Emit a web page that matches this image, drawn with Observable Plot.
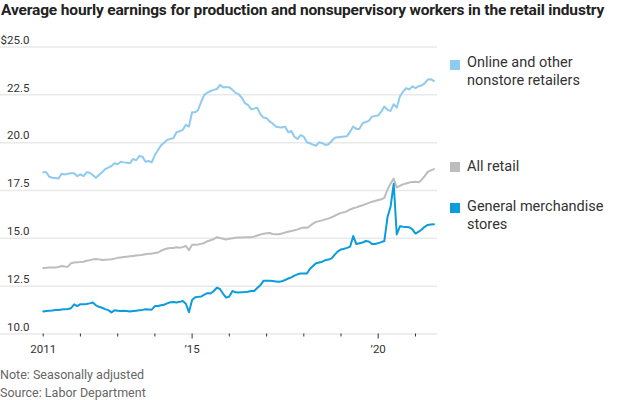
<!DOCTYPE html>
<html>
<head>
<meta charset="utf-8">
<script src="https://cdn.jsdelivr.net/npm/d3@7"></script>
<script src="https://cdn.jsdelivr.net/npm/@observablehq/plot@0.6"></script>
<style>
  body { margin: 0; background: #fff; font-family: Roboto, "Noto Sans", sans-serif; }
  #wrap { position: relative; width: 620px; height: 400px; overflow: hidden; }
  #title { position: absolute; left: 1px; top: 1px; font-weight: 700; font-size: 15.5px; color: #222; white-space: nowrap; letter-spacing: -0.15px; }
  #chart { position: absolute; left: 0; top: 25px; }
  .legtext { position: absolute; left: 467px; font-size: 14.5px; line-height: 18px; color: #333; }
  .sw { position: absolute; left: 450px; width: 10px; height: 10px; }
  .note { position: absolute; left: 0; font-size: 12.5px; color: #666; white-space: nowrap; }
</style>
</head>
<body>
<div id="wrap">
  <div id="title"></div>
  <div id="chart"></div>
  <div id="legend"></div>
  <div class="note" id="note1" style="top:367px"></div>
  <div class="note" id="note2" style="top:385px"></div>
</div>
<script>
// ---- data (monthly, starting January 2011) ----
const startYear = 2011, startMonth = 0;
const seriesNames = ["Online and other nonstore retailers", "All retail", "General merchandise stores"];
const legendLines = [["Online and other", "nonstore retailers"], ["All retail"], ["General merchandise", "stores"]];
const colors = ["#8fcaf0", "#bdbdbd", "#0a9cdc"];

const online = [
  18.45, 18.45, 18.22, 18.17, 18.15, 18.13, 18.38, 18.34, 18.37, 18.40, 18.40, 18.25,
  18.34, 18.25, 18.45, 18.43, 18.31, 18.17, 18.31, 18.45, 18.62, 18.70, 18.78, 18.92,
  18.87, 19.00, 18.97, 18.95, 18.92, 19.15, 19.08, 19.30, 19.27, 19.00, 19.04, 18.97,
  19.36, 19.62, 19.85, 20.00, 20.14, 20.20, 20.23, 20.54, 20.60, 20.67, 20.93, 20.84,
  21.59, 21.59, 21.71, 22.15, 22.50, 22.62, 22.70, 22.76, 22.80, 23.02, 22.90, 22.90,
  22.90, 22.76, 22.60, 22.54, 22.36, 22.07, 21.98, 21.75, 21.78, 21.83, 21.49, 21.31,
  21.28, 21.10, 21.00, 20.84, 20.80, 20.79, 20.84, 20.54, 20.61, 20.31, 20.19, 20.40,
  20.31, 20.02, 19.97, 19.90, 19.84, 20.02, 19.98, 19.88, 19.92, 20.09, 20.26, 20.28,
  20.30, 20.32, 20.34, 20.58, 20.84, 20.72, 20.72, 21.02, 21.08, 21.14, 21.36, 21.40,
  21.42, 21.63, 21.89, 21.71, 21.66, 22.01, 21.83, 22.41, 22.67, 22.85, 22.78, 22.94,
  22.85, 22.95, 22.99, 23.10, 23.30, 23.32, 23.22
];
const allRetail = [
  13.45, 13.46, 13.47, 13.47, 13.48, 13.50, 13.55, 13.53, 13.52, 13.70, 13.74, 13.75,
  13.76, 13.78, 13.83, 13.86, 13.90, 13.92, 13.90, 13.87, 13.88, 13.89, 13.91, 13.94,
  13.98, 14.00, 14.02, 14.04, 14.06, 14.08, 14.10, 14.11, 14.14, 14.17, 14.19, 14.20,
  14.23, 14.26, 14.35, 14.42, 14.47, 14.49, 14.50, 14.53, 14.51, 14.54, 14.60, 14.38,
  14.67, 14.67, 14.68, 14.71, 14.76, 14.85, 14.90, 14.96, 15.06, 15.02, 14.98, 14.94,
  14.98, 15.01, 15.03, 15.04, 15.05, 15.06, 15.06, 15.06, 15.09, 15.15, 15.20, 15.24,
  15.27, 15.28, 15.23, 15.21, 15.21, 15.25, 15.30, 15.34, 15.38, 15.42, 15.47, 15.53,
  15.57, 15.55, 15.64, 15.77, 15.86, 15.90, 15.94, 15.99, 16.04, 16.10, 16.18, 16.26,
  16.33, 16.36, 16.42, 16.51, 16.57, 16.62, 16.68, 16.73, 16.79, 16.85, 16.91, 16.95,
  17.00, 17.04, 17.12, 17.55, 17.85, 18.12, 17.65, 17.75, 17.82, 17.87, 17.92, 17.95,
  17.96, 17.93, 18.05, 18.25, 18.47, 18.55, 18.62
];
const generalMerch = [
  11.18, 11.20, 11.22, 11.23, 11.25, 11.26, 11.28, 11.30, 11.31, 11.35, 11.55, 11.46,
  11.56, 11.55, 11.57, 11.60, 11.65, 11.50, 11.42, 11.37, 11.30, 11.25, 11.13, 11.24,
  11.22, 11.20, 11.21, 11.20, 11.18, 11.20, 11.22, 11.24, 11.26, 11.29, 11.28, 11.27,
  11.46, 11.46, 11.50, 11.53, 11.60, 11.66, 11.67, 11.65, 11.68, 11.72, 11.58, 11.14,
  11.78, 11.92, 11.94, 11.96, 12.06, 12.14, 12.12, 12.25, 12.42, 12.35, 12.10, 11.90,
  11.96, 12.25, 12.18, 12.17, 12.18, 12.19, 12.21, 12.25, 12.25, 12.40, 12.55, 12.78,
  12.78, 12.78, 12.77, 12.75, 12.73, 12.76, 12.82, 12.90, 12.96, 13.05, 13.12, 13.16,
  13.16, 13.16, 13.40, 13.55, 13.70, 13.74, 13.78, 13.86, 13.89, 13.95, 14.15, 14.32,
  14.42, 14.46, 14.50, 14.57, 15.12, 14.70, 14.74, 14.78, 14.86, 14.84, 14.70, 14.70,
  14.75, 14.80, 14.86, 16.10, 16.65, 17.85, 15.20, 15.63, 15.60, 15.59, 15.58, 15.47,
  15.25, 15.35, 15.45, 15.60, 15.70, 15.72, 15.74
];

const yTicks = [10, 12.5, 15, 17.5, 20, 22.5, 25];
const tickYears = [2011, 2012, 2013, 2014, 2015, 2016, 2017, 2018, 2019, 2020, 2021];
const majorYears = [2015, 2020];
const labelYears = [2011, 2015, 2020];
const yearLabels = {2011: "2011", 2015: "\u201915", 2020: "\u201920"};

const titleText = "Average hourly earnings for production and nonsupervisory workers in the retail industry";
const noteText = "Note: Seasonally adjusted";
const sourceText = "Source: Labor Department";

// ---- build table ----
const rows = [];
[online, allRetail, generalMerch].forEach((arr, s) => {
  arr.forEach((v, i) => rows.push({
    date: new Date(Date.UTC(startYear, startMonth + i, 1)),
    value: v,
    series: seriesNames[s]
  }));
});
const yd = y => new Date(Date.UTC(y, 0, 1));

const chart = Plot.plot({
  width: 440,
  height: 335,
  marginLeft: 0,
  marginRight: 3,
  marginTop: 21.5,
  marginBottom: 26.5,
  style: {fontFamily: "Roboto, 'Noto Sans', sans-serif", color: "#333", background: "transparent", overflow: "visible"},
  x: {type: "utc", domain: [yd(2011), yd(2021)], range: [42.7, 415]},
  y: {domain: [10, 25], range: [308.5, 21.5], axis: null},
  color: {domain: seriesNames, range: colors},
  marks: [
    Plot.ruleY(yTicks, {stroke: "#e9e9e9", strokeWidth: 1.5}),
    Plot.text(yTicks, {
      y: d => d,
      text: d => (d === 25 ? "$" : "") + d.toFixed(1),
      frameAnchor: "left", dx: 29, dy: -7, textAnchor: "end",
      fontSize: 11.5, fill: "#333"
    }),
    Plot.axisX({ticks: tickYears.filter(y => !majorYears.includes(y)).map(yd), tickSize: 3, tickFormat: () => "", stroke: "#333"}),
    Plot.axisX({ticks: majorYears.map(yd), tickSize: 5, tickFormat: () => "", stroke: "#333"}),
    Plot.axisX({ticks: labelYears.map(yd), tickSize: 0, tickPadding: 11, fontSize: 11.5, fill: "#333",
      tickFormat: d => yearLabels[d.getUTCFullYear()]}),
    Plot.line(rows, {x: "date", y: "value", z: "series", stroke: "series", strokeWidth: 2})
  ]
});
document.getElementById("chart").appendChild(chart);

document.getElementById("title").textContent = titleText;
document.getElementById("note1").textContent = noteText;
document.getElementById("note2").textContent = sourceText;

// legend
const legendTextTops = [54, 158, 198];
const legendSwTops = [60, 162, 203];
const leg = document.getElementById("legend");
seriesNames.forEach((name, i) => {
  const sw = document.createElement("div");
  sw.className = "sw";
  sw.style.top = legendSwTops[i] + "px";
  sw.style.background = colors[i];
  leg.appendChild(sw);
  const t = document.createElement("div");
  t.className = "legtext";
  t.style.top = legendTextTops[i] + "px";
  t.innerHTML = legendLines[i].join("<br>");
  leg.appendChild(t);
});
</script>
</body>
</html>
